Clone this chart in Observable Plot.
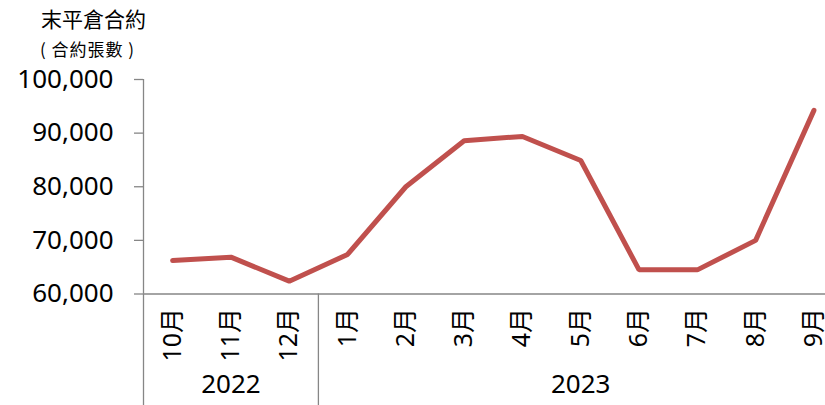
<!DOCTYPE html>
<html>
<head>
<meta charset="utf-8">
<script src="https://cdn.jsdelivr.net/npm/d3@7"></script>
<script src="https://cdn.jsdelivr.net/npm/@observablehq/plot@0.6"></script>
<style>
  html, body { margin: 0; padding: 0; background: #fff; }
  #wrap { position: relative; width: 825px; height: 405px; font-family: "Noto Sans", "Noto Sans CJK TC", sans-serif; color: #000; }
  #title { position: absolute; left: 41px; top: 8px; font-size: 21px; line-height: 1; font-family: "Noto Sans CJK TC", sans-serif; }
  #sub { position: absolute; left: 40px; top: 40px; font-size: 17px; line-height: 1; font-family: "Noto Sans CJK TC", sans-serif; white-space: pre; letter-spacing: 1px; }
  svg { position: absolute; left: 0; top: 0; }
</style>
</head>
<body>
<div id="wrap">
  <div id="title">末平倉合約</div>
  <div id="sub">( 合約張數 )</div>
</div>
<script>
const months = ["10月","11月","12月","1月","2月","3月","4月","5月","6月","7月","8月","9月"];
const years = ["2022","2022","2022","2023","2023","2023","2023","2023","2023","2023","2023","2023"];
const openInterest = [66250, 66870, 62390, 67370, 80000, 88580, 89380, 84900, 64500, 64500, 70000, 94240];
const yTicks = [60000, 70000, 80000, 90000, 100000];

const data = months.map((m, i) => ({i, month: m, year: years[i], value: openInterest[i]}));

// year groups derived from the data
const groups = [];
years.forEach((y, i) => {
  const g = groups[groups.length - 1];
  if (g && g.year === y) g.end = i; else groups.push({year: y, start: i, end: i});
});
const boundaries = groups.map(g => g.start - 0.5);
const yearCenters = groups.map(g => ({year: g.year, x: (g.start + g.end) / 2}));

const gray = "#868686";
const chart = Plot.plot({
  width: 825,
  height: 405,
  marginTop: 79,
  marginBottom: 111.5,
  marginLeft: 143,
  marginRight: 0,
  style: {fontFamily: "'Noto Sans', 'Noto Sans CJK TC', sans-serif", color: "#000", background: "transparent", overflow: "hidden"},
  x: {type: "linear", domain: [-0.5, months.length - 0.5], range: [143, 143 + 58.3 * months.length]},
  y: {domain: [60000, 100000]},
  marks: [
    Plot.axisY({ticks: yTicks, tickFormat: d3.format(","), tickSize: 9, tickPadding: 21, fontSize: 26, stroke: gray, strokeWidth: 1.3, label: null}),
    Plot.axisX({ticks: d3.range(months.length), tickFormat: i => months[i], tickSize: 0, tickPadding: 14, tickRotate: -90, fontSize: 25, label: null}),
    Plot.axisX({ticks: boundaries, tickFormat: () => "", tickSize: 111.5, tickPadding: 0, stroke: gray, strokeWidth: 1.3, label: null}),
    Plot.ruleX([boundaries[0]], {stroke: gray, strokeWidth: 1.3}),
    Plot.ruleY([yTicks[0]], {stroke: gray, strokeWidth: 1.3}),
    Plot.text(yearCenters, {x: "x", frameAnchor: "bottom", dy: 99, text: "year", fontSize: 26, fill: "#000"}),
    Plot.line(data, {x: "i", y: "value", stroke: "#c0504d", strokeWidth: 5, strokeLinejoin: "miter", strokeLinecap: "round"})
  ]
});
document.getElementById("wrap").prepend(chart);
</script>
</body>
</html>
